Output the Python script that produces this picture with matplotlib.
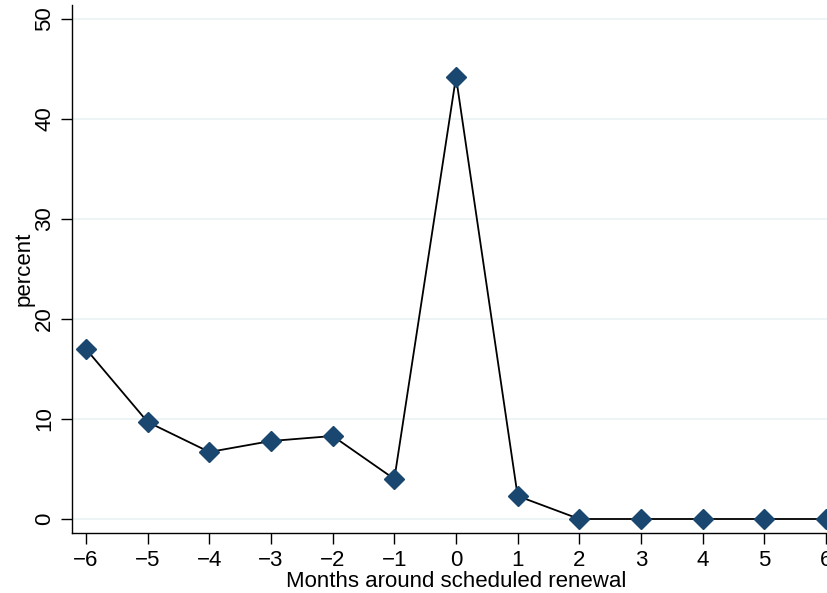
import matplotlib
matplotlib.use('Agg')
import matplotlib.pyplot as plt

matplotlib.rcParams['font.family'] = ['Liberation Sans', 'DejaVu Sans']

# months around scheduled renewal and share of renewals (percent)
months = [-6, -5, -4, -3, -2, -1, 0, 1, 2, 3, 4, 5, 6]
percent = [17.0, 9.7, 6.7, 7.8, 8.3, 4.0, 44.2, 2.3, 0.0, 0.0, 0.0, 0.0, 0.0]
yticks = [0, 10, 20, 30, 40, 50]

fig = plt.figure(figsize=(8.28, 5.93), dpi=100)
# right edge of the plot region runs past the figure, as in the original
ax = fig.add_axes([72/828, 60/593, 768/828, 528/593])

ax.plot(months, percent, color='black', lw=1.3, zorder=3)
ax.plot(months, percent, ls='none', marker='D', ms=10.5,
        mfc='#1a476f', mec='#1a476f', zorder=4)

ax.set_xlim(-6.227, 6.227)
ax.set_ylim(-1.4, 51.4)
ax.set_xticks(months)
ax.set_yticks(yticks)
ax.set_yticklabels([str(t) for t in yticks], rotation=90, va='center')
for t in yticks:
    ax.axhline(t, color='#eaf2f3', lw=1.2, zorder=1)

for s in ['top', 'right']:
    ax.spines[s].set_visible(False)
for s in ['left', 'bottom']:
    ax.spines[s].set_color('black')
    ax.spines[s].set_linewidth(1.0)

ax.tick_params(axis='both', direction='out', length=8, width=1.0,
               labelsize=16, color='black', pad=4)
ax.set_xlabel('Months around scheduled renewal', fontsize=16, labelpad=0)
ax.set_ylabel('percent', fontsize=16, labelpad=0)

fig.savefig('out.png', dpi=100)
